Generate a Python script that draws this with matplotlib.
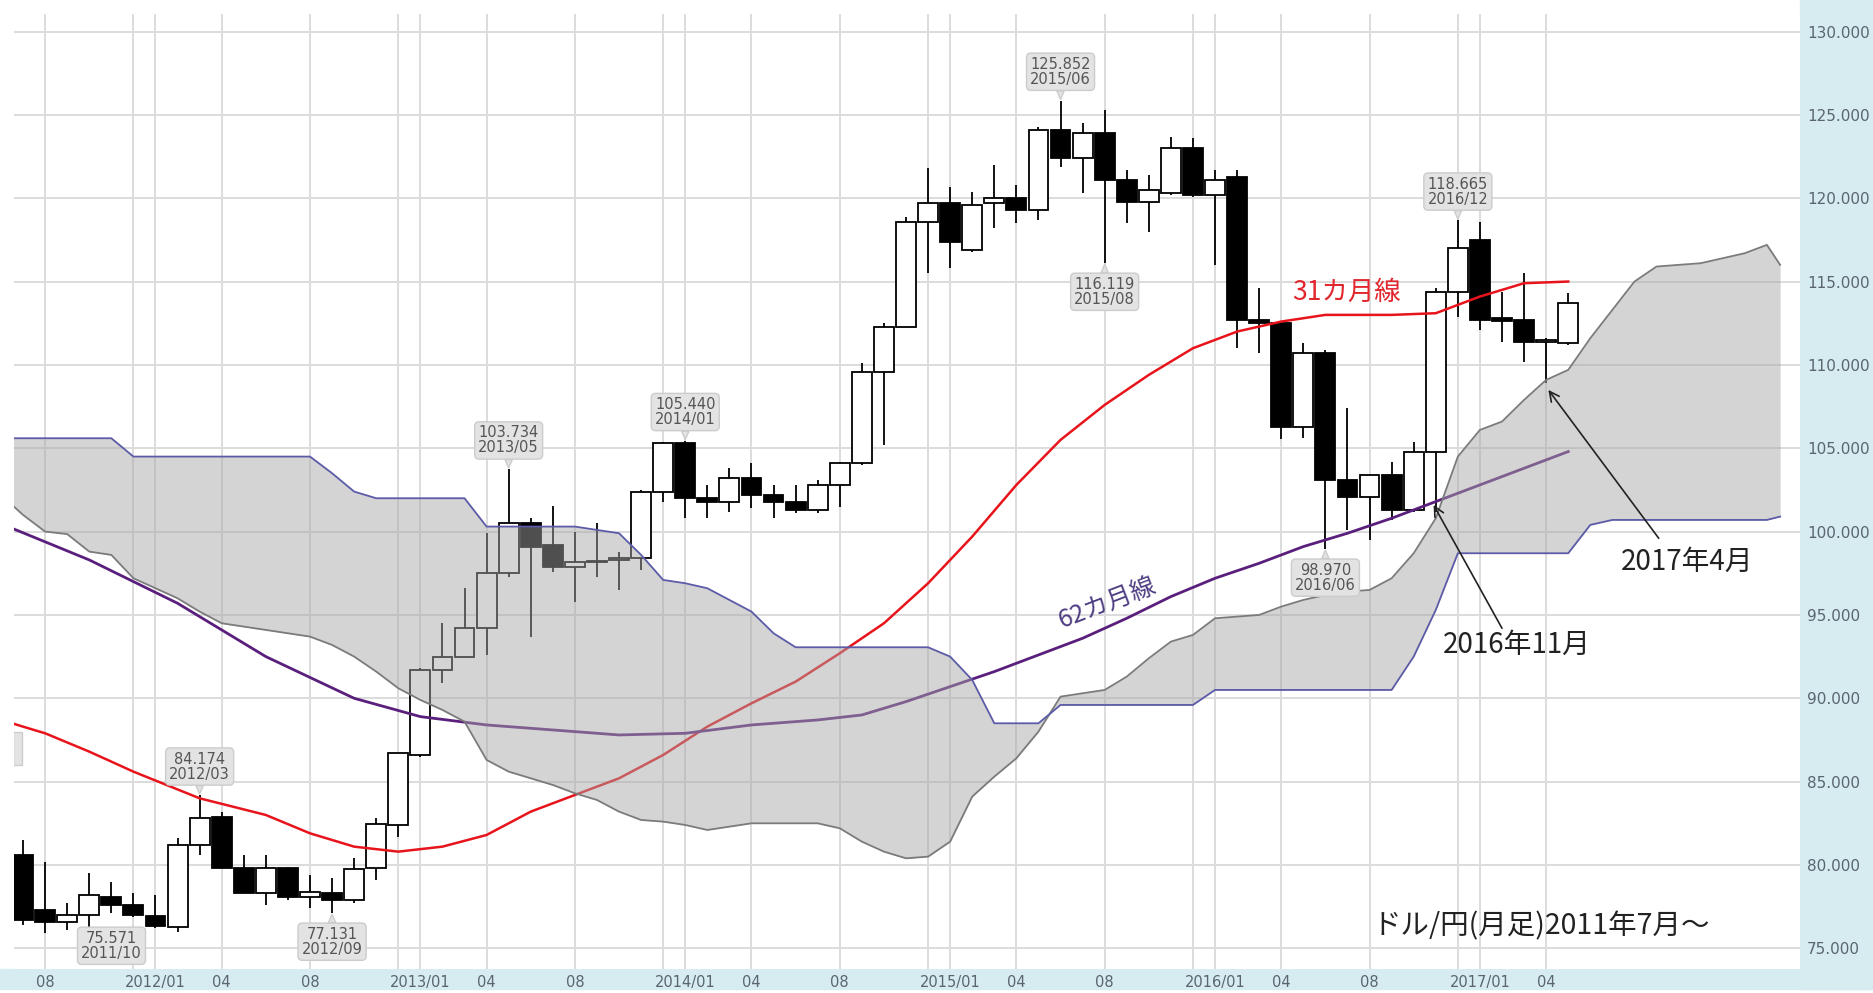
import matplotlib
matplotlib.use('Agg')
import matplotlib.pyplot as plt
from matplotlib.patches import Rectangle

plt.rcParams['font.family'] = ['DejaVu Sans']
JP = ['Noto Sans CJK JP', 'DejaVu Sans']

# 月足 ドル/円 : index 0 = 2011/07 ... 70 = 2017/05
opens  = [80.6, 77.3, 76.6, 77.0, 78.1, 77.6, 76.95, 76.3, 81.2, 82.9,
          79.8, 78.3, 79.8, 78.1, 78.3, 77.9, 79.8, 82.4, 86.6, 91.7,
          92.5, 94.2, 97.5, 100.5, 99.2, 97.9, 98.15, 98.3, 98.4, 102.4,
          105.3, 102.0, 101.8, 103.2, 102.2, 101.8, 101.3, 102.8, 104.1, 109.6,
          112.3, 118.6, 119.7, 116.9, 119.7, 120.0, 119.3, 124.1, 122.4, 123.9,
          121.1, 119.8, 120.3, 123.0, 120.2, 121.3, 112.7, 112.5, 106.3, 110.7,
          103.1, 102.1, 103.4, 101.3, 104.8, 114.4, 117.5, 112.8, 112.7, 111.4,
          111.3]
highs  = [81.5, 80.2, 77.7, 79.5, 79.0, 78.3, 78.2, 81.6, 84.174, 83.2,
          80.6, 80.6, 79.9, 79.4, 79.2, 80.4, 82.8, 86.7, 91.8, 94.5,
          96.6, 99.9, 103.734, 100.8, 101.55, 99.95, 100.5, 98.8, 102.5, 105.4,
          105.44, 102.8, 103.8, 104.1, 102.8, 102.8, 103.1, 104.2, 110.1, 112.5,
          118.9, 121.8, 120.7, 120.4, 122.0, 120.8, 124.3, 125.852, 124.5, 125.3,
          121.7, 121.4, 123.7, 123.6, 121.7, 121.7, 114.6, 112.6, 111.3, 110.9,
          107.4, 103.4, 104.2, 105.4, 114.6, 118.665, 118.6, 114.4, 115.5, 111.6,
          114.3]
lows   = [76.4, 75.9, 76.1, 75.571, 77.1, 76.9, 76.2, 76.0, 80.6, 79.8,
          78.3, 77.6, 77.9, 77.4, 77.131, 77.7, 79.1, 81.7, 86.5, 90.9,
          92.5, 92.6, 97.3, 93.7, 97.6, 95.8, 97.3, 96.5, 97.7, 101.8,
          100.8, 100.8, 101.2, 101.4, 100.8, 101.1, 101.1, 101.5, 104.0, 105.2,
          112.3, 115.5, 115.8, 116.8, 118.2, 118.5, 118.7, 121.9, 120.3, 116.119,
          118.5, 118.0, 120.2, 120.1, 115.97, 111.0, 110.7, 105.55, 105.6, 98.97,
          100.1, 99.5, 100.7, 101.2, 101.2, 112.9, 112.1, 111.4, 110.2, 108.9,
          111.2]
closes = [76.7, 76.6, 77.0, 78.2, 77.6, 77.0, 76.35, 81.2, 82.8, 79.8,
          78.3, 79.8, 78.1, 78.35, 77.9, 79.75, 82.45, 86.7, 91.7, 92.5,
          94.2, 97.5, 100.5, 99.1, 97.9, 98.15, 98.25, 98.4, 102.4, 105.3,
          102.0, 101.8, 103.2, 102.2, 101.8, 101.3, 102.8, 104.1, 109.6, 112.3,
          118.6, 119.7, 117.4, 119.6, 120.0, 119.3, 124.1, 122.4, 123.9, 121.1,
          119.8, 120.5, 123.0, 120.2, 121.1, 112.7, 112.5, 106.3, 110.7, 103.1,
          102.1, 103.4, 101.3, 104.8, 114.4, 117.0, 112.7, 112.65, 111.4, 111.5,
          113.7]

# 31カ月線
ma31_m = [-0.5, 1, 3, 5, 8, 11, 13, 15, 17, 19, 21, 23, 25, 27, 29, 31, 33, 35,
          37, 39, 41, 43, 45, 47, 49, 51, 53, 55, 57, 59, 62, 64, 65, 66, 68, 70]
ma31_v = [88.5, 87.9, 86.8, 85.6, 84.0, 83.0, 81.9, 81.1, 80.8, 81.1, 81.8, 83.2,
          84.2, 85.2, 86.6, 88.3, 89.7, 91.0, 92.7, 94.5, 96.9, 99.7, 102.8, 105.5,
          107.6, 109.4, 111.0, 112.0, 112.6, 113.0, 113.0, 113.1, 113.6, 114.1,
          114.9, 115.0]

# 62カ月線
ma62_m = [-0.5, 3, 7, 11, 15, 18, 21, 24, 27, 30, 33, 36, 38, 40, 42, 44, 46, 48,
          50, 52, 54, 56, 58, 60, 62, 64, 66, 68, 70]
ma62_v = [100.2, 98.3, 95.7, 92.5, 90.0, 88.9, 88.4, 88.1, 87.8, 87.9, 88.4, 88.7,
          89.0, 89.8, 90.7, 91.6, 92.6, 93.6, 94.8, 96.1, 97.2, 98.1, 99.1, 99.9,
          100.8, 101.8, 102.8, 103.8, 104.8]

# 雲 (先行スパン)
cloud_m = list(range(-1, 80)) + [79.6]
span_a = [102.2, 101.0, 100.0, 99.85, 98.8, 98.6, 97.2, 96.6, 96.0, 95.2,
          94.5, 94.3, 94.1, 93.9, 93.7, 93.2, 92.5, 91.6, 90.6, 89.9,
          89.3, 88.6, 86.3, 85.6, 85.2, 84.8, 84.3, 83.9, 83.2, 82.7,
          82.6, 82.4, 82.1, 82.3, 82.5, 82.5, 82.5, 82.5, 82.2, 81.4,
          80.8, 80.4, 80.5, 81.4, 84.1, 85.3, 86.4, 88.0, 90.1, 90.3,
          90.5, 91.3, 92.4, 93.4, 93.8, 94.8, 94.9, 95.0, 95.5, 95.9,
          96.2, 96.4, 96.5, 97.2, 98.7, 100.8, 104.5, 106.1, 106.6, 107.9,
          109.1, 109.7, 111.6, 113.3, 115.0, 115.9, 116.0, 116.1, 116.4, 116.7,
          117.2, 116.0]
span_b = [105.6, 105.6, 105.6, 105.6, 105.6, 105.6, 104.5, 104.5, 104.5, 104.5,
          104.5, 104.5, 104.5, 104.5, 104.5, 103.5, 102.4, 102.0, 102.0, 102.0,
          102.0, 102.0, 100.3, 100.3, 100.3, 100.3, 100.3, 100.1, 99.9, 98.6,
          97.1, 96.9, 96.6, 95.9, 95.2, 93.9, 93.06, 93.06, 93.06, 93.06,
          93.06, 93.06, 93.06, 92.5, 91.1, 88.5, 88.5, 88.5, 89.6, 89.6,
          89.6, 89.6, 89.6, 89.6, 89.6, 90.5, 90.5, 90.5, 90.5, 90.5,
          90.5, 90.5, 90.5, 90.5, 92.5, 95.3, 98.7, 98.7, 98.7, 98.7,
          98.7, 98.7, 100.4, 100.7, 100.7, 100.7, 100.7, 100.7, 100.7, 100.7,
          100.7, 100.9]

# 日付目盛
grid_m = [1, 5, 6, 9, 13, 17, 18, 21, 25, 29, 30, 33, 37, 41, 42, 45, 49, 53,
          54, 57, 61, 65, 66, 69]
tick_m = [1, 6, 9, 13, 18, 21, 25, 30, 33, 37, 42, 45, 49, 54, 57, 61, 66, 69]
tick_lab = ['08', '2012/01', '04', '08', '2013/01', '04', '08', '2014/01', '04',
            '08', '2015/01', '04', '08', '2016/01', '04', '08', '2017/01', '04']

# 高値・安値ラベル
tag_m = [8, 3, 14, 22, 30, 47, 49, 59, 65]
tag_p = [84.174, 75.571, 77.131, 103.734, 105.440, 125.852, 116.119, 98.970, 118.665]
tag_d = ['2012/03', '2011/10', '2012/09', '2013/05', '2014/01', '2015/06',
         '2015/08', '2016/06', '2016/12']
tag_low = [False, True, True, False, False, False, True, True, False]

W, H = 1874, 993
fig = plt.figure(figsize=(W / 100, H / 100), dpi=100, facecolor='white')
cyan = '#d6ecf0'
fig.add_artist(Rectangle((1800 / W, 4 / H), 74 / W, 1 - 4 / H,
                         transform=fig.transFigure, color=cyan, zorder=-5))
fig.add_artist(Rectangle((0, 4 / H), 1, 20 / H,
                         transform=fig.transFigure, color=cyan, zorder=-5))

ax = fig.add_axes([14 / W, (H - 969) / H, (1800 - 14) / W, (969 - 14) / H])
ax.set_xlim(-0.41, 80.5)
ax.set_ylim(73.76, 131.05)
for s in ax.spines.values():
    s.set_visible(False)

# グリッド
for v in range(75, 131, 5):
    ax.axhline(v, color='#dcdcdc', lw=1.4, zorder=0)
for g in grid_m:
    ax.axvline(g, color='#dcdcdc', lw=1.4, zorder=0)

# ローソク足
for i in range(len(opens)):
    o, h, l, c = opens[i], highs[i], lows[i], closes[i]
    ax.vlines(i, l, h, color='black', lw=1.3, zorder=2)
    fc = 'black' if c < o else 'white'
    hgt = max(abs(c - o), 0.05)
    ax.bar(i, hgt, bottom=min(o, c), width=0.9, facecolor=fc,
           edgecolor='black', lw=1.3, zorder=3)

# 移動平均線
ax.plot(ma31_m, ma31_v, color='#e8141c', lw=1.8, zorder=4)
ax.plot(ma62_m, ma62_v, color='#5a1f7c', lw=2.0, zorder=4)

# 雲
ax.fill_between(cloud_m, span_a, span_b, color='#a6a6a6', alpha=0.48,
                lw=0, zorder=5, interpolate=True)
ax.plot(cloud_m, span_a, color='#7b7b7b', lw=1.3, zorder=6)
ax.plot(cloud_m, span_b, color='#5b5ba8', lw=1.3, zorder=6)

# 軸目盛
ax.yaxis.tick_right()
ax.set_yticks(range(75, 131, 5))
ax.set_yticklabels(['%.3f' % v for v in range(75, 131, 5)])
ax.tick_params(axis='y', length=0, pad=5, labelsize=11, labelcolor='#5a6570')
ax.set_xticks(tick_m)
ax.set_xticklabels(tick_lab)
ax.tick_params(axis='x', length=0, pad=4, labelsize=10.5, labelcolor='#5a6570')

# 高値・安値ラベル
box = dict(boxstyle='round,pad=0.25,rounding_size=0.3', fc='#e3e3e3', ec='#cccccc', lw=1)
wedge = dict(arrowstyle='wedge,tail_width=0.5,shrink_factor=0.5',
             fc='#e3e3e3', ec='#cccccc', shrinkA=0, shrinkB=1)
for m, p, d, low in zip(tag_m, tag_p, tag_d, tag_low):
    if d == '2011/10':
        off, va = (16, -5), 'center'
    else:
        off, va = (0, -10 if low else 10), 'top' if low else 'bottom'
    ax.annotate('%.3f\n%s' % (p, d), xy=(m, p), xytext=off,
                textcoords='offset points', ha='center', va=va,
                fontsize=10.5, color='#555555', linespacing=1.0,
                bbox=box, arrowprops=wedge, zorder=10)

# 左端で切れているラベルの端
ax.add_patch(Rectangle((-0.45, 86.0), 0.4, 2.0, fc='#e3e3e3', ec='#cccccc',
                       lw=1, zorder=10))

# 文字
ax.text(59.96, 114.37, '31カ月線', family=JP, fontsize=19, color='#e2262d',
        ha='center', va='center', zorder=11)
ax.text(49.1, 95.72, '62カ月線', family=JP, fontsize=18, color='#4f3d83',
        ha='center', va='center', rotation=21, zorder=11)
ax.text(67.66, 93.2, '2016年11月', family=JP, fontsize=20, color='#222222',
        ha='center', va='center', zorder=11)
ax.text(75.4, 98.2, '2017年4月', family=JP, fontsize=20, color='#222222',
        ha='center', va='center', zorder=11)
ax.text(68.8, 76.3, 'ドル/円(月足)2011年7月〜', family=JP, fontsize=20.5,
        color='#222222', ha='center', va='center', zorder=11)

ax.annotate('', xy=(63.9, 101.6), xytext=(67.0, 94.2),
            arrowprops=dict(arrowstyle='->,head_length=0.7,head_width=0.35',
                            color='#222222', lw=1.2, shrinkA=0, shrinkB=0), zorder=11)
ax.annotate('', xy=(69.1, 108.5), xytext=(74.1, 99.6),
            arrowprops=dict(arrowstyle='->,head_length=0.7,head_width=0.35',
                            color='#222222', lw=1.2, shrinkA=0, shrinkB=0), zorder=11)

fig.savefig('out.png', dpi=100, facecolor=fig.get_facecolor())
